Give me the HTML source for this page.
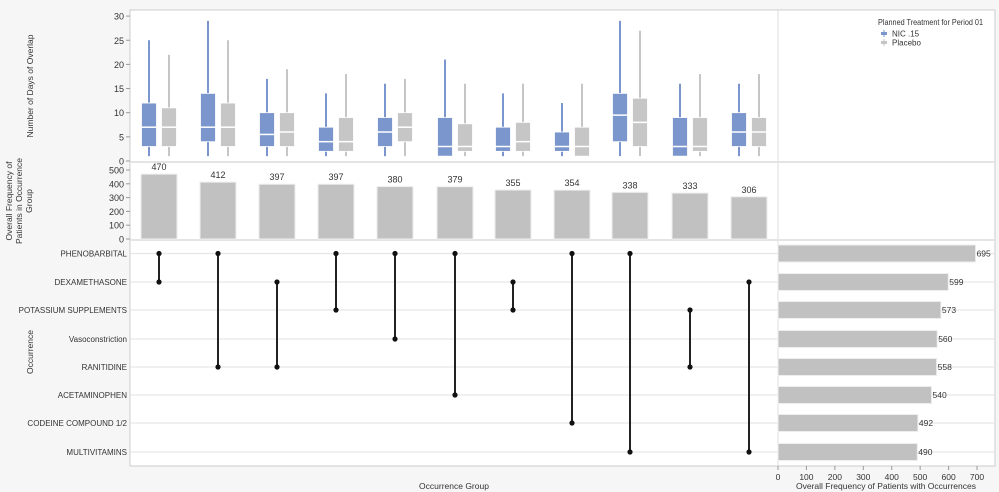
<!DOCTYPE html>
<html><head><meta charset="utf-8"><style>
body{margin:0;background:#f6f6f6;}
svg{display:block;font-family:"Liberation Sans",sans-serif;}
</style></head><body>
<svg id="s" width="999" height="492" xmlns="http://www.w3.org/2000/svg"></svg>
<script>
const s=document.getElementById('s');let h='';
h+='<rect x="130" y="10" width="865" height="456" fill="#fff" stroke="#ccc"/>';
h+='<line x1="778" y1="10" x2="778" y2="466" stroke="#ddd"/>';
h+='<line x1="130" y1="162" x2="995" y2="162" stroke="#e4e4e4" stroke-width="2"/>';
h+='<line x1="130" y1="240" x2="995" y2="240" stroke="#e4e4e4" stroke-width="2"/>';
const yb=v=>161-v*4.83, yf=v=>239-v*0.138;
for(let v=0;v<=30;v+=5){h+=`<text x="124" y="${yb(v)+3.5}" font-size="9" text-anchor="end" fill="#333">${v}</text><line x1="126" x2="130" y1="${yb(v)}" y2="${yb(v)}" stroke="#999"/>`;}
for(let v=0;v<=500;v+=100){h+=`<text x="124" y="${yf(v)+3.5}" font-size="9" text-anchor="end" fill="#333">${v}</text><line x1="126" x2="130" y1="${yf(v)}" y2="${yf(v)}" stroke="#999"/>`;}
h+='<text transform="translate(33,86) rotate(-90)" font-size="8.5" text-anchor="middle" fill="#333">Number of Days of Overlap</text>';
h+='<text transform="translate(12,201) rotate(-90)" font-size="8.5" text-anchor="middle" fill="#333"><tspan x="0" dy="0">Overall Frequency of</tspan><tspan x="0" dy="10">Patients in Occurrence</tspan><tspan x="0" dy="10">Group</tspan></text>';
h+='<text transform="translate(33,352) rotate(-90)" font-size="8.5" text-anchor="middle" fill="#333">Occurrence</text>';
const cx=[159,218,277,336,395,455,513,572,630,690,749];
const N=[[1,3,7,12,25],[1,4,7,14,29],[1,3,5.5,10,17],[1,2,4,7,14],[1,3,6,9,16],[1,1,3,9,21],[1,2,3,7,14],[1,2,3,6,12],[1,4,9.5,14,29],[1,1,3,9,16],[1,3,6,10,16]];
const P=[[1,3,7,11,22],[1,3,7,12,25],[1,3,6,10,19],[1,2,4,9,18],[1,4,7,10,17],[1,2,3,7.7,16],[1,2,4,8,16],[1,1,3,7,16],[1,3,8,13,27],[1,2,3,9,18],[1,3,6,9,18]];
function box(x,d,c){let r=`<line x1="${x}" x2="${x}" y1="${yb(d[0])}" y2="${yb(d[4])}" stroke="${c}" stroke-width="2"/>`;
r+=`<rect x="${x-7.5}" y="${yb(d[3])}" width="15" height="${yb(d[1])-yb(d[3])}" fill="${c}" stroke="#fff" stroke-width="0.8"/>`;
r+=`<line x1="${x-7.5}" x2="${x+7.5}" y1="${yb(d[2])}" y2="${yb(d[2])}" stroke="#fff" stroke-width="1.5"/>`;return r;}
const F=[470,412,397,397,380,379,355,354,338,333,306];
cx.forEach((x,i)=>{h+=box(x-10,N[i],'#7b96cc');h+=box(x+10,P[i],'#c6c6c6');
h+=`<rect x="${x-18}" y="${yf(F[i])}" width="36" height="${239-yf(F[i])}" fill="#c1c1c1" stroke="#eee"/>`;
h+=`<text x="${x}" y="${yf(F[i])-4}" font-size="9" text-anchor="middle" fill="#333">${F[i]}</text>`;});
const names=['PHENOBARBITAL','DEXAMETHASONE','POTASSIUM SUPPLEMENTS','Vasoconstriction','RANITIDINE','ACETAMINOPHEN','CODEINE COMPOUND 1/2','MULTIVITAMINS'];
const ry=[253.5,282,310,339,367,395,423,452];
const R=[695,599,573,560,558,540,492,490];
const xr=v=>778+v*0.2843;
names.forEach((n,i)=>{h+=`<line x1="131" x2="994" y1="${ry[i]}" y2="${ry[i]}" stroke="#e6e6e6" stroke-width="1.2"/>`;
h+=`<text x="127" y="${ry[i]+3}" font-size="8" text-anchor="end" fill="#333">${n}</text>`;
h+=`<rect x="778" y="${ry[i]-8.5}" width="${R[i]*0.2843}" height="17" fill="#c1c1c1" stroke="#eee"/>`;
h+=`<text x="${xr(R[i])+1}" y="${ry[i]+3}" font-size="8.5" fill="#333">${R[i]}</text>`;});
const C=[[0,1],[0,4],[1,4],[0,2],[0,3],[0,5],[1,2],[0,6],[0,7],[2,4],[1,7]];
C.forEach((c,i)=>{const x=cx[i];h+=`<line x1="${x}" x2="${x}" y1="${ry[c[0]]}" y2="${ry[c[1]]}" stroke="#222" stroke-width="2"/><circle cx="${x}" cy="${ry[c[0]]}" r="2.6" fill="#111"/><circle cx="${x}" cy="${ry[c[1]]}" r="2.6" fill="#111"/>`;});
for(let v=0;v<=700;v+=100){h+=`<text x="${xr(v)}" y="480" font-size="8.5" text-anchor="middle" fill="#333">${v}</text><line x1="${xr(v)}" x2="${xr(v)}" y1="466" y2="470" stroke="#999"/>`;}
h+='<text x="886" y="489" font-size="8.5" text-anchor="middle" fill="#333">Overall Frequency of Patients with Occurrences</text>';
h+='<text x="454" y="489" font-size="8.5" text-anchor="middle" fill="#333">Occurrence Group</text>';
h+='<text x="878" y="25" font-size="8" fill="#333" textLength="105" lengthAdjust="spacingAndGlyphs">Planned Treatment for Period 01</text>';
h+='<rect x="881" y="32" width="6" height="3" fill="#7b96cc"/><line x1="884" x2="884" y1="30" y2="37" stroke="#7b96cc"/><text x="892" y="36.5" font-size="8" fill="#333">NIC .15</text>';
h+='<rect x="881" y="41" width="6" height="3" fill="#c6c6c6"/><line x1="884" x2="884" y1="39" y2="46" stroke="#c6c6c6"/><text x="892" y="45.5" font-size="8" fill="#333">Placebo</text>';
s.innerHTML=h;
</script>
</body></html>
